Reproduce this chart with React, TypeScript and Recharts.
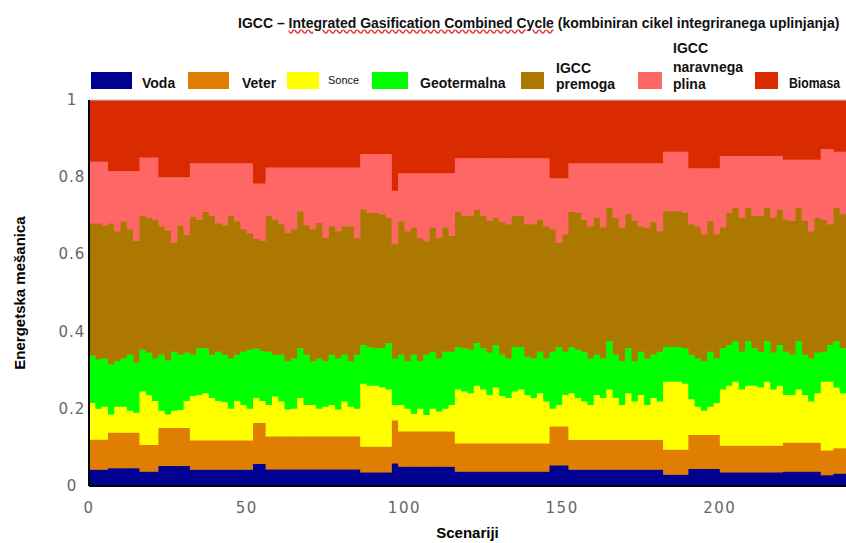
import React from 'react';
import { AreaChart, Area, XAxis, YAxis, Legend, ReferenceLine, Label } from 'recharts';

// scenariji (vsak drugi scenarij)
const scenarij = [
  0, 2, 4, 6, 8, 10, 12, 14, 16, 18, 20, 22, 24, 26, 28, 30, 32, 34, 36, 38,
  40, 42, 44, 46, 48, 50, 52, 54, 56, 58, 60, 62, 64, 66, 68, 70, 72, 74, 76, 78,
  80, 82, 84, 86, 88, 90, 92, 94, 96, 98, 100, 102, 104, 106, 108, 110, 112, 114, 116, 118,
  120, 122, 124, 126, 128, 130, 132, 134, 136, 138, 140, 142, 144, 146, 148, 150, 152, 154, 156, 158,
  160, 162, 164, 166, 168, 170, 172, 174, 176, 178, 180, 182, 184, 186, 188, 190, 192, 194, 196, 198,
  200, 202, 204, 206, 208, 210, 212, 214, 216, 218, 220, 222, 224, 226, 228, 230, 232, 234, 236, 238,
  240,
];

const voda = [
  0.042, 0.042, 0.042,
  0.046, 0.046, 0.046, 0.046, 0.046,
  0.037, 0.037, 0.037,
  0.052, 0.052, 0.052, 0.052, 0.052,
  0.042, 0.042, 0.042, 0.042, 0.042, 0.042, 0.042, 0.042, 0.042, 0.042,
  0.057, 0.057,
  0.043, 0.043, 0.043, 0.043, 0.043, 0.043, 0.043, 0.043, 0.043, 0.043, 0.043, 0.043, 0.043, 0.043, 0.043,
  0.035, 0.035, 0.035, 0.035, 0.035,
  0.058,
  0.05, 0.05, 0.05, 0.05, 0.05, 0.05, 0.05, 0.05, 0.05,
  0.037, 0.037, 0.037, 0.037, 0.037, 0.037, 0.037, 0.037, 0.037, 0.037, 0.037, 0.037, 0.037, 0.037, 0.037,
  0.053, 0.053, 0.053,
  0.042, 0.042, 0.042, 0.042, 0.042, 0.042, 0.042, 0.042, 0.042, 0.042, 0.042, 0.042, 0.042, 0.042, 0.042,
  0.029, 0.029, 0.029, 0.029,
  0.044, 0.044, 0.044, 0.044, 0.044,
  0.035, 0.035, 0.035, 0.035, 0.035, 0.035, 0.035, 0.035, 0.035, 0.035,
  0.037, 0.037, 0.037, 0.037, 0.037, 0.037,
  0.028, 0.028,
  0.032, 0.032, 0.032,
];

const veter = [
  0.078, 0.078, 0.078,
  0.092, 0.092, 0.092, 0.092, 0.092,
  0.069, 0.069, 0.069,
  0.098, 0.098, 0.098, 0.098, 0.098,
  0.076, 0.076, 0.076, 0.076, 0.076, 0.076, 0.076, 0.076, 0.076, 0.076,
  0.106, 0.106,
  0.085, 0.085, 0.085, 0.085, 0.085, 0.085, 0.085, 0.085, 0.085, 0.085, 0.085, 0.085, 0.085, 0.085, 0.085,
  0.067, 0.067, 0.067, 0.067, 0.067,
  0.112,
  0.091, 0.091, 0.091, 0.091, 0.091, 0.091, 0.091, 0.091, 0.091,
  0.073, 0.073, 0.073, 0.073, 0.073, 0.073, 0.073, 0.073, 0.073, 0.073, 0.073, 0.073, 0.073, 0.073, 0.073,
  0.101, 0.101, 0.101,
  0.077, 0.077, 0.077, 0.077, 0.077, 0.077, 0.077, 0.077, 0.077, 0.077, 0.077, 0.077, 0.077, 0.077, 0.077,
  0.065, 0.065, 0.065, 0.065,
  0.088, 0.088, 0.088, 0.088, 0.088,
  0.069, 0.069, 0.069, 0.069, 0.069, 0.069, 0.069, 0.069, 0.069, 0.069,
  0.075, 0.075, 0.075, 0.075, 0.075, 0.075,
  0.064, 0.064,
  0.066, 0.066, 0.066,
];

const sonce = [
  0.095, 0.080, 0.085,
  0.047, 0.067, 0.067, 0.057, 0.052,
  0.139, 0.129, 0.114,
  0.045, 0.035, 0.045, 0.047, 0.070,
  0.115, 0.118, 0.122, 0.110, 0.102, 0.099, 0.082, 0.102, 0.092, 0.082,
  0.065, 0.057,
  0.082, 0.104, 0.091, 0.070, 0.072, 0.100, 0.082, 0.082, 0.072, 0.077, 0.082, 0.070, 0.091, 0.077, 0.072,
  0.163, 0.158, 0.158, 0.153, 0.148,
  0.040,
  0.069, 0.059, 0.046, 0.059, 0.043, 0.059, 0.052, 0.059, 0.069,
  0.140, 0.135, 0.130, 0.150, 0.140, 0.126, 0.145, 0.123, 0.118, 0.135, 0.140, 0.126, 0.118, 0.130, 0.109,
  0.046, 0.056, 0.082,
  0.121, 0.109, 0.100, 0.091, 0.117, 0.109, 0.131, 0.109, 0.091, 0.121, 0.100, 0.117, 0.091, 0.109, 0.100,
  0.176, 0.176, 0.176, 0.171,
  0.093, 0.073, 0.063, 0.073, 0.083,
  0.146, 0.156, 0.166, 0.146, 0.156, 0.156, 0.151, 0.166, 0.146, 0.156,
  0.124, 0.124, 0.138, 0.124, 0.107, 0.128,
  0.178, 0.178,
  0.157, 0.142, 0.140,
];

const geotermalna = [
  0.123, 0.128, 0.125,
  0.130, 0.118, 0.125, 0.145, 0.130,
  0.108, 0.110, 0.110,
  0.145, 0.140, 0.153, 0.143, 0.125,
  0.107, 0.121, 0.117, 0.112, 0.128, 0.123, 0.130, 0.120, 0.138, 0.153,
  0.128, 0.130,
  0.138, 0.108, 0.121, 0.125, 0.130, 0.129, 0.130, 0.113, 0.130, 0.118, 0.130, 0.132, 0.121, 0.118, 0.140,
  0.100, 0.100, 0.097, 0.102, 0.120,
  0.120,
  0.130, 0.123, 0.153, 0.123, 0.156, 0.148, 0.137, 0.148, 0.138,
  0.110, 0.112, 0.113, 0.110, 0.107, 0.109, 0.110, 0.107, 0.102, 0.115, 0.110, 0.099, 0.102, 0.108, 0.111,
  0.148, 0.150, 0.112,
  0.120, 0.125, 0.129, 0.120, 0.104, 0.102, 0.125, 0.112, 0.113, 0.117, 0.104, 0.112, 0.120, 0.112, 0.129,
  0.090, 0.090, 0.090, 0.092,
  0.115, 0.125, 0.128, 0.143, 0.115,
  0.107, 0.105, 0.105, 0.098, 0.115, 0.097, 0.093, 0.105, 0.095, 0.105,
  0.112, 0.104, 0.125, 0.104, 0.111, 0.105,
  0.078, 0.095,
  0.120, 0.117, 0.110,
];

const igccPremoga = [
  0.342, 0.352, 0.345,
  0.365, 0.337, 0.355, 0.325, 0.315,
  0.347, 0.350, 0.360,
  0.332, 0.337, 0.282, 0.335, 0.305,
  0.357, 0.333, 0.353, 0.360, 0.332, 0.335, 0.370, 0.345, 0.317, 0.302,
  0.284, 0.285,
  0.352, 0.350, 0.338, 0.333, 0.335, 0.355, 0.335, 0.342, 0.352, 0.320, 0.333, 0.330, 0.333, 0.350, 0.303,
  0.352, 0.348, 0.351, 0.347, 0.325,
  0.296,
  0.345, 0.337, 0.330, 0.320, 0.294, 0.322, 0.313, 0.322, 0.300,
  0.352, 0.343, 0.347, 0.345, 0.343, 0.342, 0.330, 0.343, 0.348, 0.340, 0.340, 0.343, 0.348, 0.342, 0.343,
  0.317, 0.270, 0.304,
  0.350, 0.355, 0.342, 0.343, 0.355, 0.340, 0.345, 0.355, 0.347, 0.348, 0.364, 0.325, 0.340, 0.343, 0.312,
  0.352, 0.352, 0.352, 0.351,
  0.338, 0.343, 0.329, 0.339, 0.322,
  0.313, 0.343, 0.345, 0.347, 0.345, 0.343, 0.352, 0.345, 0.350, 0.351,
  0.342, 0.347, 0.345, 0.347, 0.330, 0.350,
  0.342, 0.313,
  0.345, 0.347, 0.330,
];

const igccPlina = [
  0.160, 0.160, 0.165,
  0.136, 0.156, 0.131, 0.151, 0.181,
  0.151, 0.156, 0.161,
  0.128, 0.138, 0.170, 0.125, 0.150,
  0.139, 0.146, 0.126, 0.136, 0.156, 0.161, 0.136, 0.151, 0.171, 0.181,
  0.144, 0.149,
  0.125, 0.135, 0.147, 0.169, 0.160, 0.113, 0.150, 0.160, 0.143, 0.182, 0.152, 0.165, 0.152, 0.152, 0.182,
  0.143, 0.152, 0.152, 0.156, 0.165,
  0.139,
  0.125, 0.150, 0.140, 0.167, 0.176, 0.140, 0.167, 0.140, 0.162,
  0.137, 0.149, 0.149, 0.134, 0.149, 0.162, 0.154, 0.166, 0.171, 0.149, 0.149, 0.171, 0.171, 0.159, 0.176,
  0.132, 0.167, 0.145,
  0.126, 0.128, 0.146, 0.163, 0.141, 0.166, 0.116, 0.141, 0.166, 0.131, 0.149, 0.163, 0.166, 0.153, 0.176,
  0.154, 0.154, 0.154, 0.158,
  0.145, 0.150, 0.171, 0.136, 0.171,
  0.185, 0.147, 0.135, 0.160, 0.135, 0.155, 0.155, 0.135, 0.160, 0.139,
  0.155, 0.158, 0.125, 0.158, 0.185, 0.150,
  0.183, 0.195,
  0.146, 0.162, 0.188,
];

const biomasa = [
  0.160, 0.160, 0.160,
  0.184, 0.184, 0.184, 0.184, 0.184,
  0.149, 0.149, 0.149,
  0.200, 0.200, 0.200, 0.200, 0.200,
  0.164, 0.164, 0.164, 0.164, 0.164, 0.164, 0.164, 0.164, 0.164, 0.164,
  0.216, 0.216,
  0.175, 0.175, 0.175, 0.175, 0.175, 0.175, 0.175, 0.175, 0.175, 0.175, 0.175, 0.175, 0.175, 0.175, 0.175,
  0.140, 0.140, 0.140, 0.140, 0.140,
  0.235,
  0.190, 0.190, 0.190, 0.190, 0.190, 0.190, 0.190, 0.190, 0.190,
  0.151, 0.151, 0.151, 0.151, 0.151, 0.151, 0.151, 0.151, 0.151, 0.151, 0.151, 0.151, 0.151, 0.151, 0.151,
  0.203, 0.203, 0.203,
  0.164, 0.164, 0.164, 0.164, 0.164, 0.164, 0.164, 0.164, 0.164, 0.164, 0.164, 0.164, 0.164, 0.164, 0.164,
  0.134, 0.134, 0.134, 0.134,
  0.177, 0.177, 0.177, 0.177, 0.177,
  0.145, 0.145, 0.145, 0.145, 0.145, 0.145, 0.145, 0.145, 0.145, 0.145,
  0.155, 0.155, 0.155, 0.155, 0.155, 0.155,
  0.127, 0.127,
  0.134, 0.134, 0.134,
];

const yTicks = [0, 0.2, 0.4, 0.6, 0.8, 1];
const xTicks = [0, 50, 100, 150, 200];

const series = [
  { key: 'voda', name: 'Voda', color: '#000091' },
  { key: 'veter', name: 'Veter', color: '#DF7E00' },
  { key: 'sonce', name: 'Sonce', color: '#FFFF00' },
  { key: 'geotermalna', name: 'Geotermalna', color: '#00FF00' },
  { key: 'igccPremoga', name: 'IGCC premoga', color: '#AD7800' },
  { key: 'igccPlina', name: 'IGCC naravnega plina', color: '#FF6666' },
  { key: 'biomasa', name: 'Biomasa', color: '#DA2A00' },
];

const rows = scenarij.map((s, i) => ({
  scenarij: s,
  voda: voda[i],
  veter: veter[i],
  sonce: sonce[i],
  geotermalna: geotermalna[i],
  igccPremoga: igccPremoga[i],
  igccPlina: igccPlina[i],
  biomasa: biomasa[i],
}));

const FONT = '"Liberation Sans", Arial, sans-serif';
const TICK_FONT = '"DejaVu Sans", Verdana, sans-serif';

// legenda je razporejena kot na sliki (nekatere oznake v več vrsticah)
const legendLayout: Record<string, { sx: number; sw: number; lx: number; lines: [string, number][]; small?: boolean; tw?: number }> = {
  voda: { sx: 91, sw: 41, lx: 142, lines: [['Voda', 88]] },
  veter: { sx: 188, sw: 41, lx: 242, lines: [['Veter', 88]] },
  sonce: { sx: 287, sw: 32, lx: 328, lines: [['Sonce', 84]], small: true },
  geotermalna: { sx: 372, sw: 36, lx: 420, lines: [['Geotermalna', 88]] },
  igccPremoga: { sx: 521, sw: 23, lx: 556, lines: [['IGCC', 73], ['premoga', 89]] },
  igccPlina: { sx: 638, sw: 24, lx: 673, lines: [['IGCC', 53], ['naravnega', 72], ['plina', 89]] },
  biomasa: { sx: 755, sw: 23, lx: 789, lines: [['Biomasa', 88]], tw: 51 },
};

const renderLegend = (props: any) => {
  const payload = props.payload || [];
  return (
    <div style={{ position: 'relative', height: 0 }}>
      <svg width={846} height={100} style={{ position: 'absolute', left: 0, top: 0, overflow: 'visible' }}>
        {payload.map((entry: any) => {
          const lay = legendLayout[entry.dataKey];
          if (!lay) return null;
          return (
            <g key={entry.dataKey}>
              <rect x={lay.sx} y={72} width={lay.sw} height={17} fill={entry.color} />
              {lay.lines.map(([t, by]) => (
                <text
                  key={t + by}
                  x={lay.lx}
                  y={by}
                  fontFamily={FONT}
                  fontSize={lay.small ? 11 : 14}
                  fontWeight={lay.small ? 'normal' : 'bold'}
                  fill="#111"
                  {...(lay.tw ? { textLength: lay.tw, lengthAdjust: 'spacingAndGlyphs' } : {})}
                >
                  {t}
                </text>
              ))}
            </g>
          );
        })}
      </svg>
    </div>
  );
};

const YTick = (props: any) => {
  const { x, y, payload } = props;
  return (
    <text x={x} y={y} dy={5} textAnchor="middle" fontFamily={TICK_FONT} fontSize={15} letterSpacing={1} fill="#666">
      {payload.value}
    </text>
  );
};

const XTick = (props: any) => {
  const { x, y, payload } = props;
  return (
    <text x={x} y={y} dy={19} textAnchor="middle" fontFamily={TICK_FONT} fontSize={15} letterSpacing={1.5} fill="#666">
      {payload.value}
    </text>
  );
};

const YTitle = (props: any) => {
  const vb = props.viewBox;
  const cx = vb.x + 25;
  const cy = vb.y + vb.height / 2;
  return (
    <text x={cx} y={cy} transform={`rotate(-90, ${cx}, ${cy})`} textAnchor="middle" fontFamily={FONT} fontSize={15} fontWeight="bold" fill="#000">
      Energetska mešanica
    </text>
  );
};

const XTitle = (props: any) => {
  const vb = props.viewBox;
  return (
    <text x={vb.x + vb.width / 2} y={vb.y + 52} textAnchor="middle" fontFamily={FONT} fontSize={15} fontWeight="bold" fill="#000">
      Scenariji
    </text>
  );
};

const App: React.FC = () => {
  return (
    <div style={{ position: 'absolute', left: 0, top: 0, width: 846, height: 543, background: '#fff', overflow: 'hidden' }}>
      <AreaChart width={846} height={543} data={rows} margin={{ top: 100, right: 0, bottom: 0, left: 0 }}>
        <XAxis
          dataKey="scenarij"
          type="number"
          domain={[0, 240]}
          ticks={xTicks}
          height={57}
          tickLine={false}
          tickSize={6}
          tickMargin={2}
          axisLine={{ stroke: '#000', strokeWidth: 2 }}
          tick={<XTick />}
        >
          <Label content={<XTitle />} />
        </XAxis>
        <YAxis
          type="number"
          domain={[0, 1]}
          allowDataOverflow
          ticks={yTicks}
          width={89}
          tickLine={false}
          tickSize={6}
          tickMargin={11}
          axisLine={{ stroke: '#000', strokeWidth: 2 }}
          tick={<YTick />}
        >
          <Label content={<YTitle />} />
        </YAxis>
        <Legend verticalAlign="top" content={renderLegend} wrapperStyle={{ left: 0, top: 0, width: 846, height: 0 }} />
        {series.map((s) => (
          <Area
            key={s.key}
            type="stepAfter"
            dataKey={s.key}
            name={s.name}
            stackId="mix"
            fill={s.color}
            fillOpacity={1}
            stroke={s.color}
            strokeWidth={1}
            isAnimationActive={false}
          />
        ))}
        <ReferenceLine y={1} stroke="#c8c8c8" strokeWidth={1} />
      </AreaChart>
      <div
        style={{
          position: 'absolute',
          left: 238,
          top: 16,
          fontFamily: FONT,
          fontSize: 14,
          lineHeight: '14px',
          fontWeight: 'bold',
          whiteSpace: 'nowrap',
          color: '#111',
        }}
      >
        IGCC – <span style={{ textDecoration: 'underline wavy #e03030' }}>Integrated Gasification Combined Cycle</span> (kombiniran cikel integriranega uplinjanja)
      </div>
    </div>
  );
};

export default App;
